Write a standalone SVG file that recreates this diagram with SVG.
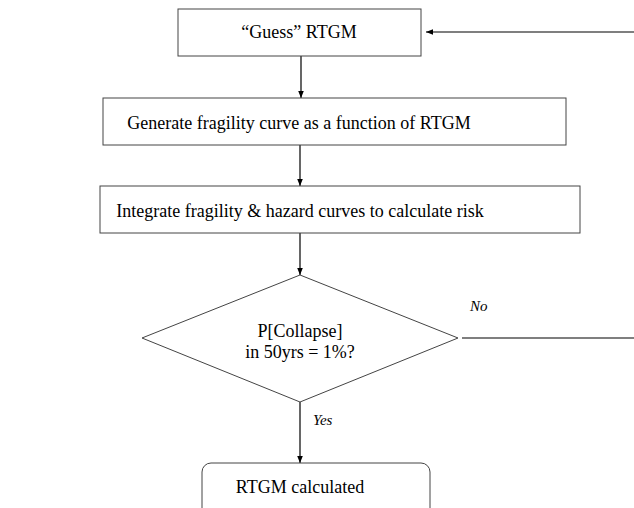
<svg xmlns="http://www.w3.org/2000/svg" width="634" height="508" viewBox="0 0 634 508">
<style>
.box{fill:#fff;stroke:#444;stroke-width:1}
.t{font-family:"Liberation Serif","Times New Roman",serif;font-size:18px;fill:#000;text-anchor:middle}
.l{font-family:"Liberation Serif","Times New Roman",serif;font-size:15px;font-style:italic;fill:#000}
.c{stroke:#000;stroke-width:1.2;fill:none}
</style>
<defs>
<marker id="ah" viewBox="0 0 10 10" refX="10" refY="5" markerWidth="7" markerHeight="7" markerUnits="userSpaceOnUse" orient="auto">
<path d="M0,1 L10,5 L0,9 z" fill="#000"/>
</marker>
</defs>
<g id="connectors">
<line class="c" x1="301" y1="56" x2="301" y2="98" marker-end="url(#ah)"/>
<line class="c" x1="300" y1="145" x2="300" y2="186" marker-end="url(#ah)"/>
<line class="c" x1="300" y1="233" x2="300" y2="275" marker-end="url(#ah)"/>
<line class="c" x1="300" y1="402" x2="300" y2="463" marker-end="url(#ah)"/>
<line class="c" x1="462" y1="338" x2="634" y2="338"/>
<line class="c" x1="634" y1="32" x2="426" y2="32" marker-end="url(#ah)"/>
<text class="l" x="470" y="311">No</text>
<text class="l" x="313" y="425">Yes</text>
</g>
<g id="guess">
<rect class="box" x="178" y="9" width="243" height="47"/>
<text class="t" x="299" y="38">“Guess” RTGM</text>
</g>
<g id="generate">
<rect class="box" x="103" y="98" width="463" height="47"/>
<text class="t" x="299" y="129">Generate fragility curve as a function of RTGM</text>
</g>
<g id="integrate">
<rect class="box" x="100" y="186" width="480" height="47"/>
<text class="t" x="300" y="217">Integrate fragility &amp; hazard curves to calculate risk</text>
</g>
<g id="decision">
<polygon class="box" points="300,275 458,338 300,402 142,338"/>
<text class="t" x="300" y="337">P[Collapse]</text>
<text class="t" x="300" y="358">in 50yrs = 1%?</text>
</g>
<g id="result">
<rect class="box" x="202" y="463" width="228" height="70" rx="9" ry="9"/>
<text class="t" x="300" y="493">RTGM calculated</text>
</g>
</svg>
